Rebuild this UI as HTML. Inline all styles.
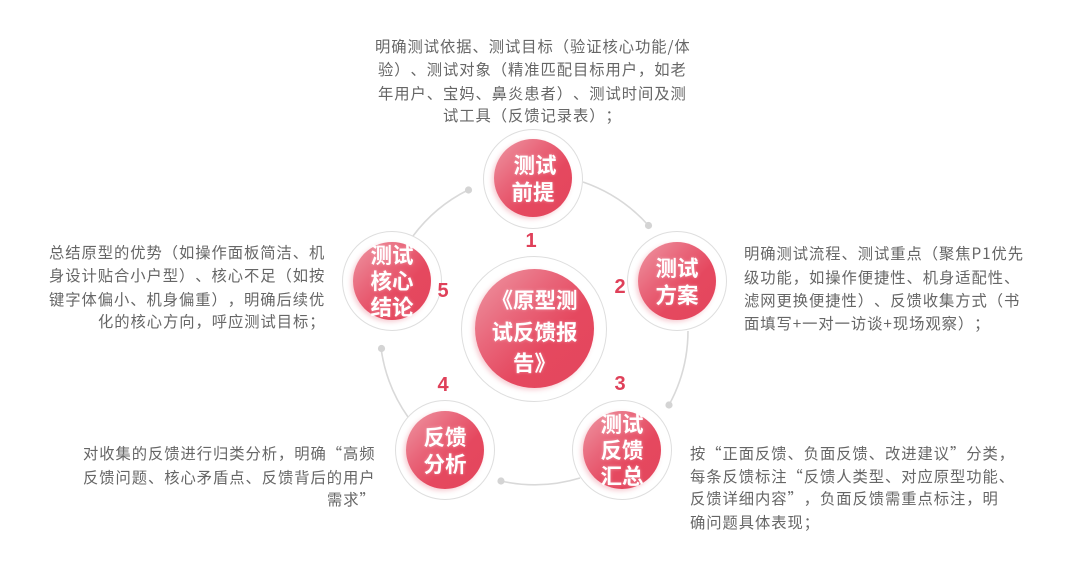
<!DOCTYPE html>
<html lang="zh-CN">
<head>
<meta charset="utf-8">
<style>
html,body{margin:0;padding:0;background:#fff}
#p{position:relative;width:1080px;height:574px;overflow:hidden;background:#fff;font-family:"Noto Sans CJK SC","Liberation Sans",sans-serif;text-spacing-trim:space-all;font-kerning:none}
.t{position:absolute;white-space:nowrap;font-size:15.3px;letter-spacing:.95px;line-height:24px;height:24px;color:#666;font-family:"Noto Sans CJK SC","Liberation Sans",sans-serif}
.o{position:absolute;border:1px solid #dedede;border-radius:50%;background:#fff;box-sizing:border-box}
.i{position:absolute;border-radius:50%;background:linear-gradient(135deg,#ee98a4 0%,#e9677b 35%,#e5485f 62%,#e4465d 100%);box-shadow:-2px 2px 5px rgba(230,90,110,.3)}
.w{position:absolute;color:#fff;font-weight:700;font-size:21.5px;text-align:center;white-space:nowrap;line-height:26.5px;text-shadow:0 0 3px rgba(255,255,255,.35)}
.n{position:absolute;color:#df4059;font:700 20px/24px "Liberation Sans",sans-serif;width:20px;text-align:center}
svg{position:absolute;left:0;top:0}
</style>
</head>
<body>
<div id="p">
<svg width="1080" height="574" viewBox="0 0 1080 574" fill="none" stroke="#d9d9d9" stroke-width="1.6">
<path d="M583 182A155 155 0 0 1 648 225"/>
<path d="M688 331A155 155 0 0 1 669 405"/>
<path d="M580 478A155 155 0 0 1 501 481"/>
<path d="M408 417A155 155 0 0 1 381 348"/>
<path d="M413 236A155 155 0 0 1 468 190"/>
<g fill="#d4d4d4" stroke="none">
<circle cx="648.500" cy="225.500" r="3.600"/>
<circle cx="669" cy="405" r="3.600"/>
<circle cx="501" cy="481" r="3.600"/>
<circle cx="381.500" cy="348.500" r="3.600"/>
<circle cx="468.500" cy="190" r="3.600"/>
</g>
</svg>

<div class="o" style="left:461px;top:256px;width:146px;height:146px"></div>
<div class="i" style="left:475px;top:269px;width:119px;height:119px"></div>
<div class="w" style="left:475px;top:284px;width:119px;line-height:31.500px">《原型测<br>试反馈报<br>告》</div>

<div class="o" style="left:483px;top:129px;width:100px;height:100px"></div>
<div class="i" style="left:494px;top:139px;width:78px;height:78px"></div>
<div class="w" style="left:494px;top:152px;width:78px"><span style="position:relative;left:2px">测试</span><br>前提</div>

<div class="o" style="left:627px;top:231px;width:100px;height:100px"></div>
<div class="i" style="left:638px;top:242px;width:78px;height:78px"></div>
<div class="w" style="left:638px;top:255px;width:78px">测试<br>方案</div>

<div class="o" style="left:572px;top:400px;width:100px;height:100px"></div>
<div class="i" style="left:583px;top:411px;width:78px;height:78px"></div>
<div class="w" style="left:583px;top:411px;width:78px;line-height:26px">测试<br>反馈<br>汇总</div>

<div class="o" style="left:395px;top:400px;width:100px;height:100px"></div>
<div class="i" style="left:406px;top:411px;width:78px;height:78px"></div>
<div class="w" style="left:406px;top:424px;width:78px">反馈<br>分析</div>

<div class="o" style="left:342px;top:231px;width:100px;height:100px"></div>
<div class="i" style="left:353px;top:242px;width:78px;height:78px"></div>
<div class="w" style="left:353px;top:242px;width:78px;line-height:26px">测试<br>核心<br>结论</div>

<div class="n" style="left:521px;top:229px">1</div>
<div class="n" style="left:610px;top:275px">2</div>
<div class="n" style="left:610px;top:372px">3</div>
<div class="n" style="left:433px;top:373px">4</div>
<div class="n" style="left:433px;top:279px">5</div>

<div class="t" style="left:375px;top:34px">明确测试依据、测试目标（验证核心功能/体</div>
<div class="t" style="left:378px;top:57px">验）、测试对象（精准匹配目标用户，如老</div>
<div class="t" style="left:378px;top:81px">年用户、宝妈、鼻炎患者）、测试时间及测</div>
<div class="t" style="left:443px;top:103px">试工具（反馈记录表）；</div>

<div class="t" style="left:744px;top:241px">明确测试流程、测试重点（聚焦P1优先</div>
<div class="t" style="left:744px;top:265px">级功能，如操作便捷性、机身适配性、</div>
<div class="t" style="left:744px;top:288px">滤网更换便捷性）、反馈收集方式（书</div>
<div class="t" style="left:744px;top:311px">面填写+一对一访谈+现场观察）；</div>

<div class="t" style="left:690px;top:441px">按“正面反馈、负面反馈、改进建议”分类，</div>
<div class="t" style="left:690px;top:464px">每条反馈标注“反馈人类型、对应原型功能、</div>
<div class="t" style="left:690px;top:486px">反馈详细内容”，负面反馈需重点标注，明</div>
<div class="t" style="left:690px;top:510px">确问题具体表现；</div>

<div class="t" style="left:49px;top:240px">总结原型的优势（如操作面板简洁、机</div>
<div class="t" style="left:49px;top:263px">身设计贴合小户型）、核心不足（如按</div>
<div class="t" style="left:49px;top:287px">键字体偏小、机身偏重），明确后续优</div>
<div class="t" style="left:98px;top:309px">化的核心方向，呼应测试目标；</div>

<div class="t" style="left:83px;top:441px">对收集的反馈进行归类分析，明确“高频</div>
<div class="t" style="left:83px;top:465px">反馈问题、核心矛盾点、反馈背后的用户</div>
<div class="t" style="left:327px;top:487px">需求”</div>
</div>
</body>
</html>
